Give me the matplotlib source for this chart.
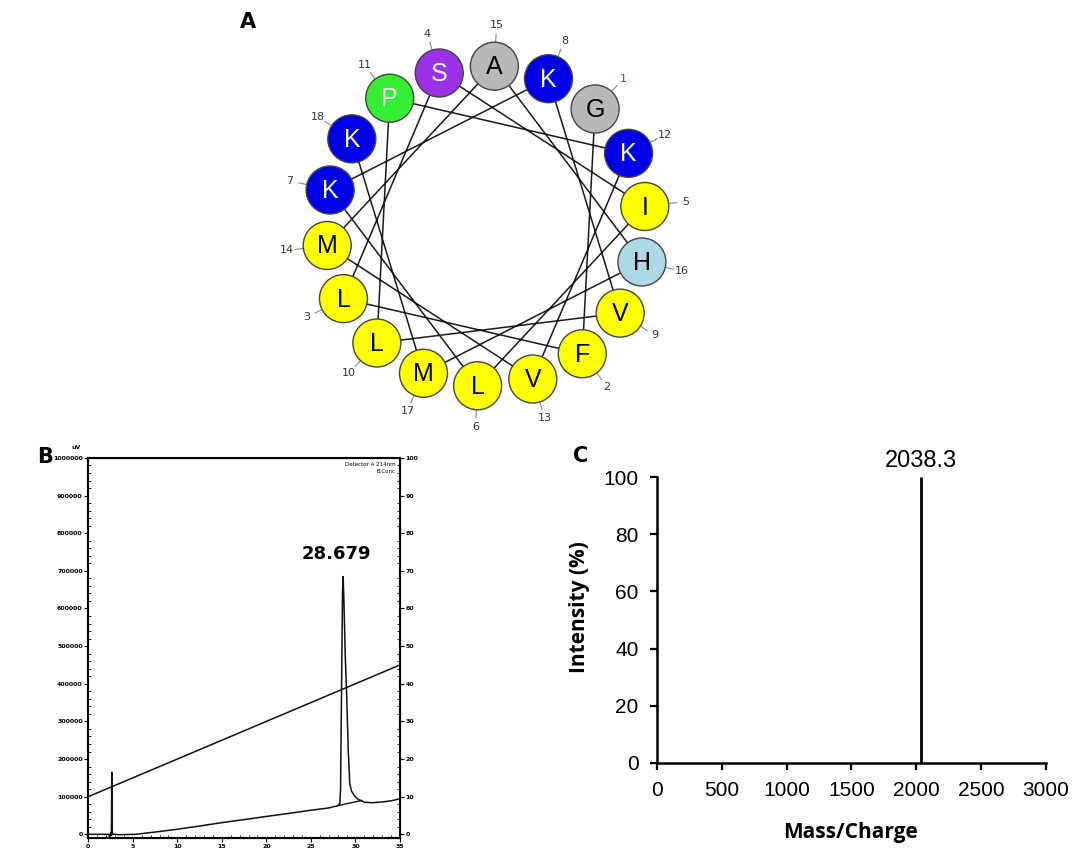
import numpy as np
import matplotlib.pyplot as plt
from matplotlib import font_manager
from matplotlib.patches import Circle
from matplotlib.ticker import MultipleLocator

# ---- data ----
# A: helical wheel, residues 1..18
sequence = list("GFLSILKKVLPKVMAHMK")
residue_colors = {
    'K': '#0000e8', 'G': '#b8b8b8', 'A': '#b8b8b8', 'S': '#9b30e6',
    'P': '#33ee33', 'H': '#add8e6',
    'F': '#ffff00', 'L': '#ffff00', 'I': '#ffff00', 'V': '#ffff00', 'M': '#ffff00',
}
white_text = ['K', 'S', 'P']

# B: HPLC chromatogram (min, uV) and gradient (min, %B)
time_min = [0, 2.3, 2.42, 2.52, 2.6, 2.64, 2.68, 2.76, 2.9, 3.5, 5.3, 7.5, 10, 12.5,
            15, 17.5, 20, 22.5, 25, 27, 28.0, 28.25, 28.33, 28.44, 28.55, 28.62,
            28.72, 28.85, 29.0, 29.2, 29.37, 29.56, 29.9, 30.3, 31.05, 31.95, 33.0,
            34.0, 35.0]
signal_uv = [0, 0, -9000, 4000, -3000, 165000, 6000, 0, 0, -1000, 0, 6000, 13500,
             22000, 31000, 39000, 47500, 55500, 64000, 70000, 76000, 82000, 120000,
             381000, 640000, 685000, 610000, 480000, 381000, 220000, 133000, 115000,
             102000, 93000, 85000, 84000, 86000, 89000, 94500]
drift_time = [28.0, 30.7]
drift_uv = [76000, 90000]
grad_time = [0, 35]
grad_conc = [10, 45]
peak_label = '28.679'

# C: mass spectrum
mz_peaks = [2038.3]
mz_intensity = [100]

installed = {f.name for f in font_manager.fontManager.ttflist}
if 'Liberation Sans Narrow' in installed:
    num_font, num_size, peak_size = 'Liberation Sans Narrow', 17, 20
else:
    num_font, num_size, peak_size = 'Liberation Sans', 15, 17

fig = plt.figure(figsize=(10.83, 8.52), dpi=100)

# ---- panel A (pixel coordinates) ----
axw = fig.add_axes([0, 0, 1, 1])
axw.set_xlim(0, 1083)
axw.set_ylim(852, 0)
axw.axis('off')

cx, cy, R, r = 486, 226, 160, 24
angles = np.deg2rad(43 + 100 * np.arange(len(sequence)))
xs = cx + R * np.sin(angles)
ys = cy - R * np.cos(angles)

axw.plot(xs, ys, color='#1a1a1a', lw=1.1, zorder=1)
for i, aa in enumerate(sequence):
    axw.add_patch(Circle((xs[i], ys[i]), r, facecolor=residue_colors[aa],
                         edgecolor='#444444', lw=1.0, zorder=2))
    axw.text(xs[i], ys[i] + 1, aa, ha='center', va='center', fontsize=18,
             family='Liberation Sans',
             color='white' if aa in white_text else 'black', zorder=3)
    s, c = np.sin(angles[i]), np.cos(angles[i])
    axw.plot([cx + 184 * s, cx + 192 * s], [cy - 184 * c, cy - 192 * c],
             color='#888888', lw=0.8, zorder=1)
    axw.text(cx + 201 * s, cy - 201 * c, str(i + 1), ha='center', va='center',
             fontsize=8, color='#cc2222' if i == 0 else '#333333')

fig.text(248 / 1083, 1 - 22 / 852, 'A', fontsize=15, fontweight='bold',
         ha='center', va='center')
fig.text(45 / 1083, 1 - 457 / 852, 'B', fontsize=15, fontweight='bold',
         ha='center', va='center')
fig.text(581 / 1083, 1 - 456 / 852, 'C', fontsize=15, fontweight='bold',
         ha='center', va='center')

# ---- panel B ----
axb = fig.add_axes([0.0815, 0.0159, 0.2878, 0.4466])
axb.plot(time_min, signal_uv, color='#111111', lw=1.1)
axb.plot(drift_time, drift_uv, color='#111111', lw=1.0)
axb.set_xlim(0, 35)
axb.set_ylim(-11000, 1000000)
yt = list(range(0, 1000001, 100000))
axb.set_yticks(yt, labels=[str(v) for v in yt])
axb.set_xticks(range(0, 36, 5))
axb.xaxis.set_minor_locator(MultipleLocator(1))
axb.yaxis.set_minor_locator(MultipleLocator(20000))
axb.tick_params(which='major', direction='out', length=3, width=0.8,
                labelsize=4.5, pad=1)
axb.tick_params(which='minor', direction='in', length=2, width=0.6)
for lab in axb.get_xticklabels() + axb.get_yticklabels():
    lab.set_fontweight('bold')
for sp in axb.spines.values():
    sp.set_linewidth(1.5)
axb.text(-0.04, 1.02, 'uV', transform=axb.transAxes, fontsize=4.5,
         fontweight='bold', ha='center', va='bottom')
axb.text(0.985, 0.99, 'Detector A 214nm', transform=axb.transAxes, fontsize=4,
         ha='right', va='top')
axb.text(0.985, 0.97, 'B.Conc', transform=axb.transAxes, fontsize=4,
         ha='right', va='top')
axb.text(28.679 - 0.8, 722000, peak_label, fontsize=13, fontweight='bold',
         ha='center', va='bottom')

axb2 = axb.twinx()
axb2.plot(grad_time, grad_conc, color='#111111', lw=1.1)
axb2.set_ylim(-1.1, 100)
axb2.set_yticks(range(0, 101, 10))
axb2.yaxis.set_minor_locator(MultipleLocator(2))
axb2.tick_params(which='major', direction='out', length=3, width=0.8,
                 labelsize=4.5, pad=1)
axb2.tick_params(which='minor', direction='in', length=2, width=0.6)
for lab in axb2.get_yticklabels():
    lab.set_fontweight('bold')

# ---- panel C ----
axc = fig.add_axes([0.6064, 0.1048, 0.3595, 0.335])
axc.vlines(mz_peaks, 0, mz_intensity, color='black', lw=2)
for m, h in zip(mz_peaks, mz_intensity):
    axc.text(m, h + 2, f'{m:.1f}', ha='center', va='bottom', fontsize=peak_size,
             family=num_font)
axc.set_xlim(0, 3000)
axc.set_ylim(0, 100)
axc.set_xticks(range(0, 3001, 500))
axc.set_yticks(range(0, 101, 20))
axc.spines['top'].set_visible(False)
axc.spines['right'].set_visible(False)
for sp in ['left', 'bottom']:
    axc.spines[sp].set_linewidth(1.8)
axc.tick_params(direction='out', length=5, width=1.6, labelsize=num_size, pad=8)
for lab in axc.get_xticklabels() + axc.get_yticklabels():
    lab.set_family(num_font)
axc.set_xlabel('Mass/Charge', fontsize=15, fontweight='bold', family='Open Sans')
axc.set_ylabel('Intensity (%)', fontsize=15, fontweight='bold', family='Open Sans')
axc.xaxis.set_label_coords(0.4966, -0.208)
axc.yaxis.set_label_coords(-0.171, 0.547)

fig.savefig('out.png', dpi=100)
